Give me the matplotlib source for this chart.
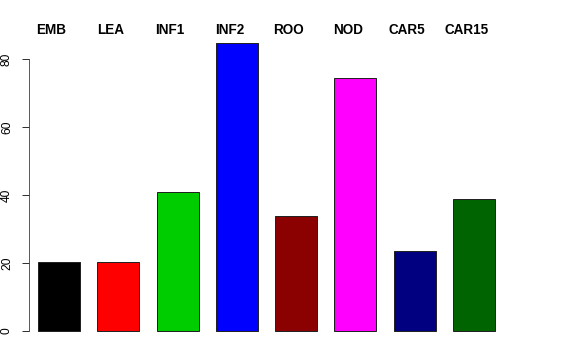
import matplotlib
matplotlib.use("Agg")
import matplotlib.pyplot as plt
import matplotlib.transforms as mtransforms
import numpy as np

# tissue names and values
tissues = ["EMB", "LEA", "INF1", "INF2", "ROO", "NOD", "CAR5", "CAR15"]
values = [20.3, 20.3, 40.8, 84.7, 33.7, 74.3, 23.6, 38.7]
colors = ["black", "red", "#00CD00", "blue", "#8B0000", "magenta", "#000080", "#006400"]
yticks = [0, 20, 40, 60, 80]

plt.rcParams['font.family'] = ['Liberation Sans', 'DejaVu Sans']

fig = plt.figure(figsize=(8, 5), dpi=72)
ax = fig.add_axes([29 / 576, 1 - 342.6 / 360, (560 - 29) / 576, (342.6 - 31.5) / 360])

x = np.arange(len(tissues))
ax.bar(x, values, width=0.71, color=colors, edgecolor="#222222", linewidth=1)

ax.set_xlim(-0.506, 8.45)
ax.set_ylim(-3.4, 88.1)

# R style left axis only
for side in ["top", "right", "bottom"]:
    ax.spines[side].set_visible(False)
ax.spines["left"].set_bounds(0, 80)
ax.spines["left"].set_color("#333333")
ax.set_xticks([])
ax.set_yticks(yticks)
ax.set_yticklabels([str(t) for t in yticks], rotation=90, va="center", fontsize=12)
ax.tick_params(axis="y", length=7, width=1, pad=9, color="#333333")

# tissue labels above the bars
trans = mtransforms.blended_transform_factory(ax.transData, fig.transFigure)
for xi, name in zip(x, tissues):
    ax.text(xi - 0.125, 1 - 29.7 / 360, name, transform=trans,
            ha="center", va="center", fontsize=13.5, fontweight="bold")

fig.savefig("out.png", dpi=72)
